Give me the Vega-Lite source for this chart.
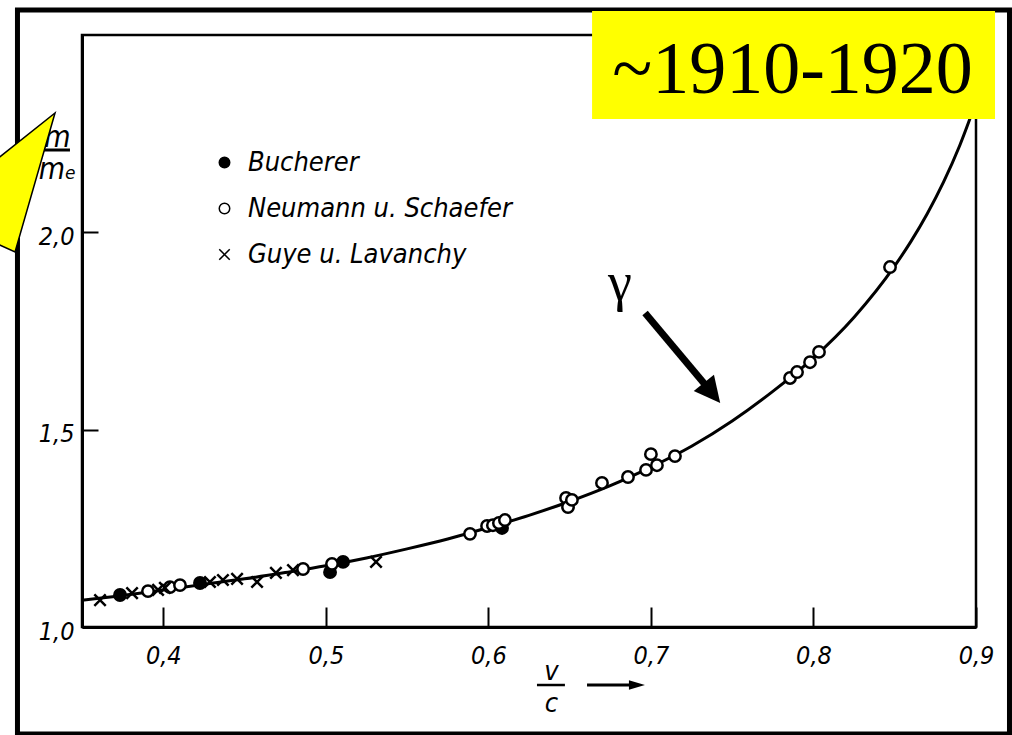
{
  "$schema": "https://vega.github.io/schema/vega-lite/v6.json",
  "width": 894,
  "height": 592,
  "autosize": {"type": "none"},
  "padding": {"left": 82, "top": 35, "right": 36, "bottom": 108},
  "background": "white",
  "data": {"values": [{"note": "annotation"}]},
  "config": {
    "view": {"stroke": "black", "strokeWidth": 2.5},
    "axis": {
      "grid": false,
      "domainColor": "black",
      "domainWidth": 3,
      "tickColor": "black",
      "tickWidth": 2,
      "labelColor": "black",
      "labelFont": "DejaVu Sans Condensed",
      "labelFontStyle": "italic",
      "labelFontSize": 24,
      "labelOverlap": false,
      "labelFlush": false,
      "titleColor": "black",
      "titleFont": "DejaVu Sans Condensed",
      "titleFontStyle": "italic",
      "titleFontWeight": "normal"
    }
  },
  "datasets": {
    "curve": [
      {"x": 0.350, "y": 1.068}, {"x": 0.375, "y": 1.080}, {"x": 0.400, "y": 1.094},
      {"x": 0.425, "y": 1.108}, {"x": 0.450, "y": 1.122}, {"x": 0.475, "y": 1.138},
      {"x": 0.500, "y": 1.155}, {"x": 0.525, "y": 1.175}, {"x": 0.550, "y": 1.198},
      {"x": 0.575, "y": 1.223}, {"x": 0.600, "y": 1.252}, {"x": 0.625, "y": 1.283},
      {"x": 0.650, "y": 1.318}, {"x": 0.675, "y": 1.358}, {"x": 0.700, "y": 1.405},
      {"x": 0.725, "y": 1.458}, {"x": 0.750, "y": 1.522}, {"x": 0.775, "y": 1.597},
      {"x": 0.800, "y": 1.682}, {"x": 0.825, "y": 1.785}, {"x": 0.850, "y": 1.915},
      {"x": 0.860, "y": 1.977}, {"x": 0.870, "y": 2.047}, {"x": 0.880, "y": 2.127},
      {"x": 0.890, "y": 2.220}, {"x": 0.900, "y": 2.330}
    ],
    "points": [
      {"series": "Bucherer", "x": 0.3734, "y": 1.081},
      {"series": "Bucherer", "x": 0.4226, "y": 1.1115},
      {"series": "Bucherer", "x": 0.5026, "y": 1.139},
      {"series": "Bucherer", "x": 0.5106, "y": 1.165},
      {"series": "Bucherer", "x": 0.6084, "y": 1.251},
      {"series": "Neumann u. Schaefer", "x": 0.3906, "y": 1.091},
      {"series": "Neumann u. Schaefer", "x": 0.4041, "y": 1.101},
      {"series": "Neumann u. Schaefer", "x": 0.4103, "y": 1.106},
      {"series": "Neumann u. Schaefer", "x": 0.486, "y": 1.147},
      {"series": "Neumann u. Schaefer", "x": 0.5038, "y": 1.160},
      {"series": "Neumann u. Schaefer", "x": 0.5887, "y": 1.236},
      {"series": "Neumann u. Schaefer", "x": 0.5992, "y": 1.256},
      {"series": "Neumann u. Schaefer", "x": 0.6028, "y": 1.258},
      {"series": "Neumann u. Schaefer", "x": 0.6065, "y": 1.2635},
      {"series": "Neumann u. Schaefer", "x": 0.6102, "y": 1.271},
      {"series": "Neumann u. Schaefer", "x": 0.6478, "y": 1.327},
      {"series": "Neumann u. Schaefer", "x": 0.649, "y": 1.304},
      {"series": "Neumann u. Schaefer", "x": 0.6514, "y": 1.322},
      {"series": "Neumann u. Schaefer", "x": 0.6699, "y": 1.365},
      {"series": "Neumann u. Schaefer", "x": 0.6859, "y": 1.380},
      {"series": "Neumann u. Schaefer", "x": 0.697, "y": 1.398},
      {"series": "Neumann u. Schaefer", "x": 0.700, "y": 1.438},
      {"series": "Neumann u. Schaefer", "x": 0.7037, "y": 1.410},
      {"series": "Neumann u. Schaefer", "x": 0.7148, "y": 1.433},
      {"series": "Neumann u. Schaefer", "x": 0.7856, "y": 1.631},
      {"series": "Neumann u. Schaefer", "x": 0.7899, "y": 1.646},
      {"series": "Neumann u. Schaefer", "x": 0.7979, "y": 1.671},
      {"series": "Neumann u. Schaefer", "x": 0.8034, "y": 1.697},
      {"series": "Neumann u. Schaefer", "x": 0.8471, "y": 1.912},
      {"series": "Guye u. Lavanchy", "x": 0.3611, "y": 1.068},
      {"series": "Guye u. Lavanchy", "x": 0.3808, "y": 1.086},
      {"series": "Guye u. Lavanchy", "x": 0.3968, "y": 1.094},
      {"series": "Guye u. Lavanchy", "x": 0.401, "y": 1.099},
      {"series": "Guye u. Lavanchy", "x": 0.4287, "y": 1.114},
      {"series": "Guye u. Lavanchy", "x": 0.4367, "y": 1.119},
      {"series": "Guye u. Lavanchy", "x": 0.4454, "y": 1.122},
      {"series": "Guye u. Lavanchy", "x": 0.4577, "y": 1.114},
      {"series": "Guye u. Lavanchy", "x": 0.4693, "y": 1.137},
      {"series": "Guye u. Lavanchy", "x": 0.4798, "y": 1.144},
      {"series": "Guye u. Lavanchy", "x": 0.5309, "y": 1.165}
    ],
    "callout": [
      {"o": 1, "x": 0.2966, "y": 2.182},
      {"o": 2, "x": 0.3334, "y": 2.3024},
      {"o": 3, "x": 0.3088, "y": 1.9502},
      {"o": 4, "x": 0.2966, "y": 1.973},
      {"o": 5, "x": 0.2966, "y": 2.182}
    ]
  },
  "layer": [
    {
      "mark": {"type": "rect", "filled": false, "stroke": "black", "strokeWidth": 5},
      "encoding": {
        "x": {"datum": 0.3103, "type": "quantitative", "scale": {"domain": [0.35, 0.9], "nice": false, "zero": false}},
        "x2": {"datum": 0.9206},
        "y": {"datum": 2.5633, "type": "quantitative", "scale": {"domain": [1.0, 2.5], "nice": false, "zero": false}},
        "y2": {"datum": 0.7289}
      }
    },
    {
      "mark": {"type": "rule", "color": "black", "strokeWidth": 3},
      "encoding": {
        "x": {"datum": 0.326, "type": "quantitative", "scale": {"domain": [0.35, 0.9], "nice": false, "zero": false}},
        "x2": {"datum": 0.3426},
        "y": {"datum": 2.2086, "type": "quantitative", "scale": {"domain": [1.0, 2.5], "nice": false, "zero": false}},
        "y2": {"datum": 2.2086}
      }
    },
    {
      "mark": {"type": "rule", "color": "black", "strokeWidth": 2.5},
      "encoding": {
        "x": {"datum": 0.6299, "type": "quantitative", "scale": {"domain": [0.35, 0.9], "nice": false, "zero": false}},
        "x2": {"datum": 0.6471},
        "y": {"datum": 0.853, "type": "quantitative", "scale": {"domain": [1.0, 2.5], "nice": false, "zero": false}},
        "y2": {"datum": 0.853}
      }
    },
    {
      "data": {"name": "callout"},
      "mark": {"type": "line", "fill": "#ffff00", "stroke": "black", "strokeWidth": 1.5},
      "encoding": {
        "x": {"field": "x", "type": "quantitative", "scale": {"domain": [0.35, 0.9], "nice": false, "zero": false}},
        "y": {"field": "y", "type": "quantitative", "scale": {"domain": [1.0, 2.5], "nice": false, "zero": false}},
        "order": {"field": "o"}
      }
    },
    {
      "data": {"name": "curve"},
      "mark": {"type": "line", "color": "black", "strokeWidth": 3, "interpolate": "monotone"},
      "encoding": {
        "x": {
          "field": "x", "type": "quantitative",
          "scale": {"domain": [0.35, 0.9], "nice": false, "zero": false},
          "axis": {
            "values": [0.4, 0.5, 0.6, 0.7, 0.8, 0.9],
            "labelExpr": "replace(format(datum.value, '.1f'), '.', ',')",
            "tickSize": -20,
            "labelPadding": 36,
            "labelBaseline": "top",
            "labelFontSize": 25,
            "title": ["v", "c"],
            "titleFontSize": 27,
            "titleX": 469,
            "titleY": 52,
            "titleAlign": "center",
            "titleBaseline": "alphabetic",
            "titleLineHeight": 32
          }
        },
        "y": {
          "field": "y", "type": "quantitative",
          "scale": {"domain": [1.0, 2.5], "nice": false, "zero": false},
          "axis": {
            "values": [1.0, 1.5, 2.0],
            "labelExpr": "replace(format(datum.value, '.1f'), '.', ',')",
            "tickSize": -16,
            "labelPadding": 24,
            "labelOffset": 4,
            "labelFontSize": 25,
            "title": ["m", "mₑ"],
            "titleFontSize": 30,
            "titleAngle": 0,
            "titleX": -25,
            "titleY": 111,
            "titleAlign": "center",
            "titleBaseline": "alphabetic",
            "titleLineHeight": 32
          }
        }
      }
    },
    {
      "data": {"name": "points"},
      "mark": {"type": "point", "stroke": "black", "strokeWidth": 2.5, "size": 130, "opacity": 1},
      "encoding": {
        "x": {"field": "x", "type": "quantitative", "scale": {"domain": [0.35, 0.9], "nice": false, "zero": false}},
        "y": {"field": "y", "type": "quantitative", "scale": {"domain": [1.0, 2.5], "nice": false, "zero": false}},
        "shape": {
          "field": "series", "type": "nominal",
          "scale": {"domain": ["Bucherer", "Neumann u. Schaefer", "Guye u. Lavanchy"], "range": ["circle", "circle", "M-1,-1L1,1M-1,1L1,-1"]},
          "legend": {
            "title": null,
            "orient": "none",
            "legendX": 129,
            "legendY": 114,
            "padding": 0,
            "symbolSize": 110,
            "labelFont": "DejaVu Sans Condensed",
            "labelFontStyle": "italic",
            "labelFontSize": 27,
            "labelColor": "black",
            "labelOffset": 10,
            "rowPadding": 18,
            "labelLimit": 400,
            "encode": {"symbols": {"update": {"stroke": {"value": "black"}, "strokeWidth": {"value": 3}, "opacity": {"value": 1}}}}
          }
        },
        "fill": {
          "field": "series", "type": "nominal",
          "scale": {"domain": ["Bucherer", "Neumann u. Schaefer", "Guye u. Lavanchy"], "range": ["black", "white", "transparent"]},
          "legend": {
            "title": null,
            "orient": "none",
            "legendX": 129,
            "legendY": 114,
            "padding": 0,
            "symbolSize": 110,
            "labelFont": "DejaVu Sans Condensed",
            "labelFontStyle": "italic",
            "labelFontSize": 27,
            "labelColor": "black",
            "labelOffset": 10,
            "rowPadding": 18,
            "labelLimit": 400,
            "encode": {"symbols": {"update": {"stroke": {"value": "black"}, "strokeWidth": {"value": 3}, "opacity": {"value": 1}}}}
          }
        }
      }
    },
    {
      "mark": {"type": "rule", "color": "black", "strokeWidth": 7},
      "encoding": {
        "x": {"datum": 0.6964, "type": "quantitative", "scale": {"domain": [0.35, 0.9], "nice": false, "zero": false}},
        "y": {"datum": 1.7956, "type": "quantitative", "scale": {"domain": [1.0, 2.5], "nice": false, "zero": false}},
        "x2": {"datum": 0.7351},
        "y2": {"datum": 1.6056}
      }
    },
    {
      "mark": {"type": "point", "shape": "M0,-1L1,1L-1,1Z", "filled": true, "color": "black", "opacity": 1, "size": 676, "angle": 141},
      "encoding": {
        "x": {"datum": 0.7376, "type": "quantitative", "scale": {"domain": [0.35, 0.9], "nice": false, "zero": false}},
        "y": {"datum": 1.5929, "type": "quantitative", "scale": {"domain": [1.0, 2.5], "nice": false, "zero": false}}
      }
    },
    {
      "mark": {"type": "text", "text": "γ", "font": "Liberation Serif", "fontSize": 54, "color": "black", "align": "center", "baseline": "alphabetic"},
      "encoding": {
        "x": {"datum": 0.681, "type": "quantitative", "scale": {"domain": [0.35, 0.9], "nice": false, "zero": false}},
        "y": {"datum": 1.8285, "type": "quantitative", "scale": {"domain": [1.0, 2.5], "nice": false, "zero": false}}
      }
    },
    {
      "mark": {"type": "rule", "color": "black", "strokeWidth": 3},
      "encoding": {
        "x": {"datum": 0.6607, "type": "quantitative", "scale": {"domain": [0.35, 0.9], "nice": false, "zero": false}},
        "y": {"datum": 0.853, "type": "quantitative", "scale": {"domain": [1.0, 2.5], "nice": false, "zero": false}},
        "x2": {"datum": 0.6884},
        "y2": {"datum": 0.853}
      }
    },
    {
      "mark": {"type": "point", "shape": "M0,-1L0.6,1L-0.6,1Z", "filled": true, "color": "black", "opacity": 1, "size": 256, "angle": 90},
      "encoding": {
        "x": {"datum": 0.6914, "type": "quantitative", "scale": {"domain": [0.35, 0.9], "nice": false, "zero": false}},
        "y": {"datum": 0.853, "type": "quantitative", "scale": {"domain": [1.0, 2.5], "nice": false, "zero": false}}
      }
    },
    {
      "mark": {"type": "rect", "fill": "#ffff00", "strokeWidth": 0},
      "encoding": {
        "x": {"datum": 0.6638, "type": "quantitative", "scale": {"domain": [0.35, 0.9], "nice": false, "zero": false}},
        "x2": {"datum": 0.9117},
        "y": {"datum": 2.5608, "type": "quantitative", "scale": {"domain": [1.0, 2.5], "nice": false, "zero": false}},
        "y2": {"datum": 2.2872}
      }
    },
    {
      "mark": {"type": "text", "text": "~1910-1920", "font": "Liberation Serif", "fontSize": 74, "color": "black", "align": "center", "baseline": "alphabetic"},
      "encoding": {
        "x": {"datum": 0.7871, "type": "quantitative", "scale": {"domain": [0.35, 0.9], "nice": false, "zero": false}},
        "y": {"datum": 2.353, "type": "quantitative", "scale": {"domain": [1.0, 2.5], "nice": false, "zero": false}}
      }
    }
  ]
}
